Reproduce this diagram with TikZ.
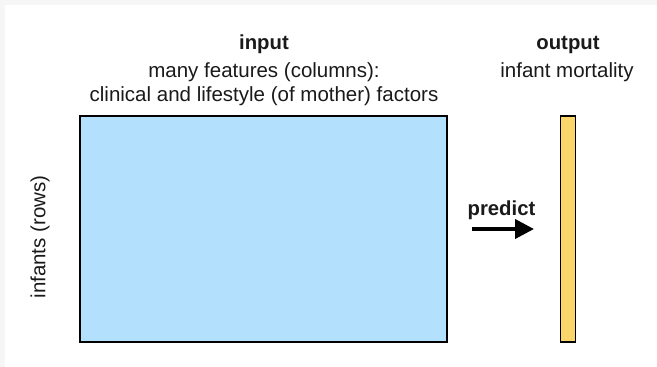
\documentclass[tikz,border=0pt]{standalone}
\usepackage{fontspec}
\setmainfont{Liberation Sans}
\usetikzlibrary{arrows.meta}
\definecolor{inblue}{HTML}{B3E1FD}
\definecolor{outyellow}{HTML}{F9D56B}
\definecolor{framegray}{HTML}{F6F6F6}
\definecolor{txt}{HTML}{1A1A1A}
\begin{document}
\begin{tikzpicture}[x=1pt,y=-1pt,
  lbl/.style={inner sep=0pt,anchor=base,text=txt,font=\fontsize{20.5}{24}\selectfont},
  blbl/.style={lbl,font=\fontsize{20.3}{24}\selectfont\bfseries},
  matbox/.style={draw=black,line width=1.8pt,inner sep=0pt}]
\useasboundingbox (0,0) rectangle (657,367);
\fill[white] (0,0) rectangle (657,367);
\fill[framegray] (0,0) rectangle (657,5);
\fill[framegray] (0,0) rectangle (5,367);
% input matrix and output vector
\node[matbox,fill=inblue,minimum width=367pt,minimum height=226pt] (in) at (263.5,229) {};
\node[matbox,fill=outyellow,minimum width=15pt,minimum height=226pt] (out) at (568,229) {};
% headings
\node[blbl] (inhead) at (264,49) {input};
\node[lbl] (infeat1) at (264,77.5) {many features (columns):};
\node[lbl] (infeat2) at (264,101.5) {clinical and lifestyle (of mother) factors};
\node[blbl] (outhead) at (568,49) {output};
\node[lbl] (outdesc) at (567,77.5) {infant mortality};
\node[lbl,rotate=90,anchor=center] (rows) at (40,237) {infants (rows)};
% predict arrow
\node[blbl] (pred) at (501.5,215) {predict};
\coordinate (a1) at (472,229);
\coordinate (a2) at (534,229);
\draw[line width=4pt,-{Triangle[length=19pt,width=19pt]}] (a1) -- (a2);
\end{tikzpicture}
\end{document}
